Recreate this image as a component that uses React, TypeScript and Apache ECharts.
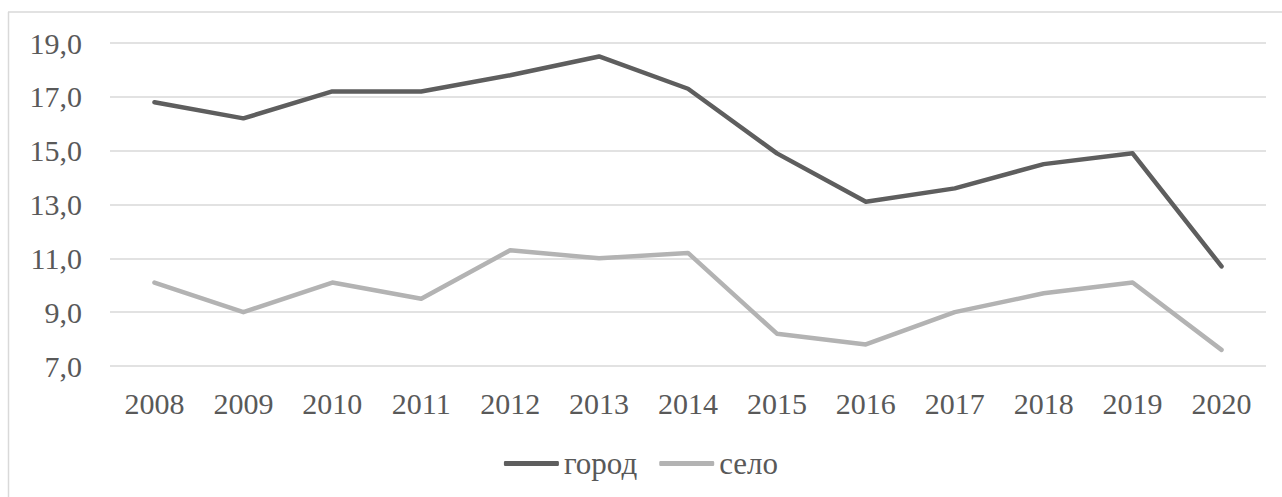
import React, { useEffect, useRef } from "react";
import * as echarts from "echarts";

const years = ["2008", "2009", "2010", "2011", "2012", "2013", "2014", "2015", "2016", "2017", "2018", "2019", "2020"];
const gorod = [16.8, 16.2, 17.2, 17.2, 17.8, 18.5, 17.3, 14.9, 13.1, 13.6, 14.5, 14.9, 10.7];
const selo = [10.1, 9.0, 10.1, 9.5, 11.3, 11.0, 11.2, 8.2, 7.8, 9.0, 9.7, 10.1, 7.6];

const FONT = "'Liberation Serif', 'Times New Roman', serif";
const FS = 30;

export default function App() {
  const ref = useRef<HTMLDivElement>(null);
  useEffect(() => {
    document.body.style.margin = "0";
    const chart = echarts.init(ref.current!, undefined, { renderer: "svg" });
    chart.setOption({
      animation: false,
      textStyle: { fontFamily: FONT },
      graphic: [
        { type: "line", shape: { x1: 8, y1: 12, x2: 1282, y2: 12 }, style: { stroke: "#d9d9d9", lineWidth: 1.5 } },
        { type: "line", shape: { x1: 8.5, y1: 12, x2: 8.5, y2: 497 }, style: { stroke: "#d9d9d9", lineWidth: 1.5 } },
      ],
      grid: { left: 110, right: 16, top: 43, bottom: 131, containLabel: false },
      legend: {
        bottom: 13,
        left: "center",
        itemWidth: 55,
        itemHeight: 5,
        itemGap: 22,
        icon: "roundRect",
        textStyle: { fontFamily: FONT, fontSize: 31, color: "#595959" },
        data: ["город", "село"],
      },
      xAxis: {
        type: "category",
        data: years,
        boundaryGap: true,
        axisLine: { show: false },
        axisTick: { show: false },
        axisLabel: { fontFamily: FONT, fontSize: FS, color: "#595959", margin: 22 },
      },
      yAxis: {
        type: "value",
        min: 7,
        max: 19,
        interval: 2,
        axisLine: { show: false },
        axisTick: { show: false },
        splitLine: { lineStyle: { color: "#d9d9d9", width: 1.5 } },
        axisLabel: {
          fontFamily: FONT,
          fontSize: FS,
          color: "#595959",
          margin: 28,
          formatter: (v: number) => v.toFixed(1).replace(".", ","),
        },
      },
      series: [
        {
          name: "город",
          type: "line",
          data: gorod,
          symbol: "none",
          lineStyle: { color: "#5e5e5e", width: 4.5, cap: "round", join: "round" },
          itemStyle: { color: "#5e5e5e" },
        },
        {
          name: "село",
          type: "line",
          data: selo,
          symbol: "none",
          lineStyle: { color: "#b3b3b3", width: 4.5, cap: "round", join: "round" },
          itemStyle: { color: "#b3b3b3" },
        },
      ],
    });
    return () => chart.dispose();
  }, []);
  return <div ref={ref} style={{ width: 1282, height: 497 }} />;
}
